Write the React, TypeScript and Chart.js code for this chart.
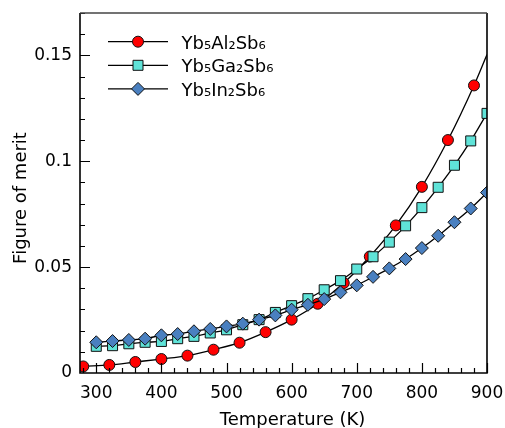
import React, { useEffect, useRef } from 'react';
import { Chart, registerables } from 'chart.js';

Chart.register(...registerables);

// ---- Data ----
const alTemps = [280, 320, 360, 400, 440, 480, 520, 560, 600, 640, 680, 720, 760, 800, 840, 880];
const alZT = [0.0031, 0.0038, 0.0052, 0.0066, 0.0082, 0.011, 0.0143, 0.0193, 0.0252, 0.0327, 0.0425, 0.055, 0.0697, 0.0879, 0.110, 0.1358];
// ends of the drawn fit curve for Al
const alFitTemps = [275, 900];
const alFitZT = [0.0030, 0.1504];

const gaTemps = [300, 325, 350, 375, 400, 425, 450, 475, 500, 525, 550, 575, 600, 625, 650, 675, 700, 725, 750, 775, 800, 825, 850, 875, 900];
const gaZT = [0.0126, 0.0129, 0.0138, 0.0145, 0.0149, 0.0162, 0.0173, 0.0189, 0.0204, 0.0228, 0.0252, 0.0286, 0.0318, 0.0351, 0.0393, 0.0436, 0.0491, 0.0549, 0.0618, 0.0695, 0.0781, 0.0877, 0.0981, 0.1096, 0.1226];

const inTemps = [300, 325, 350, 375, 400, 425, 450, 475, 500, 525, 550, 575, 600, 625, 650, 675, 700, 725, 750, 775, 800, 825, 850, 875, 900];
const inZT = [0.0145, 0.0151, 0.0156, 0.0162, 0.0178, 0.0184, 0.0197, 0.0208, 0.022, 0.0233, 0.0252, 0.0272, 0.0299, 0.0322, 0.0349, 0.0381, 0.0414, 0.0454, 0.0494, 0.0538, 0.059, 0.0648, 0.0712, 0.0777, 0.0852];

const seriesLabels = ['Yb\u2085Al\u2082Sb\u2086', 'Yb\u2085Ga\u2082Sb\u2086', 'Yb\u2085In\u2082Sb\u2086'];

const xTicks = [300, 400, 500, 600, 700, 800, 900];
const xTickLabels = ['300', '400', '500', '600', '700', '800', '900'];
const yTicks = [0, 0.05, 0.1, 0.15];
const yTickLabels = ['0', '0.05', '0.1', '0.15'];
const xMinorStep = 20;
const yMinorStep = 0.01;

const xTitle = 'Temperature (K)';
const yTitle = 'Figure of merit';

const FONT = '"DejaVu Sans", Verdana, sans-serif';
const RED = '#ff0000';
const CYAN = '#5fe3d8';
const BLUE = '#4a80c0';
const EDGE = '#111111';

const pts = (xs: number[], ys: number[]) => xs.map((x, i) => ({ x, y: ys[i] }));

const framePlugin = {
  id: 'frame',
  afterDatasetsDraw(chart: any) {
    const { ctx, chartArea: a } = chart;
    const xs = chart.scales.x;
    const ys = chart.scales.y;
    ctx.save();
    ctx.strokeStyle = '#000';
    ctx.lineWidth = 1.2;
    ctx.beginPath();
    const x0 = Math.ceil(xs.min / xMinorStep) * xMinorStep;
    for (let v = x0; v <= xs.max + 1e-9; v += xMinorStep) {
      const px = Math.round(xs.getPixelForValue(v)) + 0.5;
      const len = xTicks.includes(v) ? 10 : 5;
      ctx.moveTo(px, a.bottom);
      ctx.lineTo(px, a.bottom - len);
    }
    for (let k = 1; k * yMinorStep <= ys.max + 1e-9; k++) {
      const v = k * yMinorStep;
      const py = Math.round(ys.getPixelForValue(v)) + 0.5;
      const major = yTicks.some((t) => Math.abs(t - v) < 1e-9);
      ctx.moveTo(a.left, py);
      ctx.lineTo(a.left + (major ? 10 : 5), py);
    }
    ctx.stroke();
    ctx.lineWidth = 1.6;
    ctx.strokeStyle = '#000';
    ctx.beginPath();
    ctx.moveTo(a.left, a.top);
    ctx.lineTo(a.left, a.bottom);
    ctx.lineTo(a.right, a.bottom);
    ctx.lineTo(a.right, a.top);
    ctx.stroke();
    ctx.strokeStyle = '#444';
    ctx.beginPath();
    ctx.moveTo(a.left, a.top);
    ctx.lineTo(a.right, a.top);
    ctx.stroke();
    ctx.restore();
  },
};

const drawMarker = (ctx: CanvasRenderingContext2D, kind: string, x: number, y: number, fill: string) => {
  ctx.beginPath();
  if (kind === 'circle') {
    ctx.arc(x, y, 5.5, 0, Math.PI * 2);
  } else if (kind === 'rect') {
    ctx.rect(x - 5, y - 5, 10, 10);
  } else {
    ctx.moveTo(x - 6.5, y);
    ctx.lineTo(x, y - 6.5);
    ctx.lineTo(x + 6.5, y);
    ctx.lineTo(x, y + 6.5);
    ctx.closePath();
  }
  ctx.fillStyle = fill;
  ctx.fill();
  ctx.lineWidth = 1;
  ctx.strokeStyle = EDGE;
  ctx.stroke();
};

const legendPlugin = {
  id: 'customLegend',
  afterDraw(chart: any) {
    const { ctx } = chart;
    const kinds = ['circle', 'rect', 'diamond'];
    const fills = [RED, CYAN, BLUE];
    ctx.save();
    seriesLabels.forEach((label, i) => {
      const y = 41.7 + i * 23.6;
      ctx.strokeStyle = '#000';
      ctx.lineWidth = 1.3;
      ctx.beginPath();
      ctx.moveTo(108, y);
      ctx.lineTo(168, y);
      ctx.stroke();
      drawMarker(ctx, kinds[i], 138, y, fills[i]);
      ctx.fillStyle = '#000';
      ctx.font = `18px ${FONT}`;
      ctx.textAlign = 'left';
      ctx.textBaseline = 'alphabetic';
      ctx.fillText(label, 181.5, y + 7);
    });
    ctx.font = `18px ${FONT}`;
    ctx.fillStyle = '#000';
    ctx.textAlign = 'center';
    ctx.textBaseline = 'alphabetic';
    ctx.fillText(xTitle, 292.5, 425);
    ctx.translate(26, 198);
    ctx.rotate(-Math.PI / 2);
    ctx.fillText(yTitle, 0, 0);
    ctx.restore();
  },
};

export default function App() {
  const ref = useRef<HTMLCanvasElement | null>(null);
  useEffect(() => {
    if (!ref.current) return;
    const lineBase = {
      showLine: true,
      pointRadius: 0,
      borderColor: '#000',
      borderWidth: 1.3,
      cubicInterpolationMode: 'monotone' as const,
      fill: false,
    };
    const alFit = pts(alFitTemps, alFitZT);
    const chart = new Chart(ref.current, {
      type: 'scatter',
      data: {
        datasets: [
          { ...lineBase, label: 'Al fit', data: [alFit[0], ...pts(alTemps, alZT), alFit[1]], order: 6 },
          { label: seriesLabels[0], data: pts(alTemps, alZT), pointStyle: 'circle', pointRadius: 5.5, backgroundColor: RED, borderColor: EDGE, borderWidth: 1, order: 5 },
          { ...lineBase, label: 'Ga fit', data: pts(gaTemps, gaZT), order: 4 },
          { label: seriesLabels[1], data: pts(gaTemps, gaZT), pointStyle: 'rect', pointRadius: 7.07, backgroundColor: CYAN, borderColor: EDGE, borderWidth: 1, order: 3 },
          { ...lineBase, label: 'In fit', data: pts(inTemps, inZT), order: 2 },
          { label: seriesLabels[2], data: pts(inTemps, inZT), pointStyle: 'rectRot', pointRadius: 6.5, backgroundColor: BLUE, borderColor: EDGE, borderWidth: 1, order: 1 },
        ],
      },
      options: {
        animation: false,
        responsive: false,
        events: [],
        layout: { padding: { top: 13, right: 18, left: 0, bottom: 0 } },
        plugins: { legend: { display: false }, tooltip: { enabled: false } },
        scales: {
          x: {
            type: 'linear',
            min: 275,
            max: 900,
            afterBuildTicks: (s: any) => { s.ticks = xTicks.map((v) => ({ value: v })); },
            afterFit: (s: any) => { s.height = 55; s.paddingLeft = 0; s.paddingRight = 0; },
            grid: { display: false, drawTicks: false },
            border: { display: false },
            ticks: {
              padding: 10,
              color: '#000',
              maxRotation: 0,
              font: { family: FONT, size: 17 },
              callback: (v: any) => xTickLabels[xTicks.indexOf(Number(v))] ?? '',
            },
          },
          y: {
            type: 'linear',
            min: 0,
            max: 0.17,
            afterBuildTicks: (s: any) => { s.ticks = yTicks.map((v) => ({ value: v })); },
            afterFit: (s: any) => { s.width = 80; s.paddingTop = 0; s.paddingBottom = 0; },
            grid: { display: false, drawTicks: false },
            border: { display: false },
            ticks: {
              padding: 8,
              color: '#000',
              font: { family: FONT, size: 17 },
              callback: (v: any) => {
                const i = yTicks.findIndex((t) => Math.abs(t - Number(v)) < 1e-9);
                return i >= 0 ? yTickLabels[i] : '';
              },
            },
          },
        },
      },
      plugins: [framePlugin, legendPlugin],
    } as any);
    return () => chart.destroy();
  }, []);
  return (
    <div style={{ position: 'fixed', left: 0, top: 0, width: 505, height: 428, background: '#fff' }}>
      <canvas ref={ref} width={505} height={428} style={{ display: 'block', width: 505, height: 428 }} />
    </div>
  );
}
